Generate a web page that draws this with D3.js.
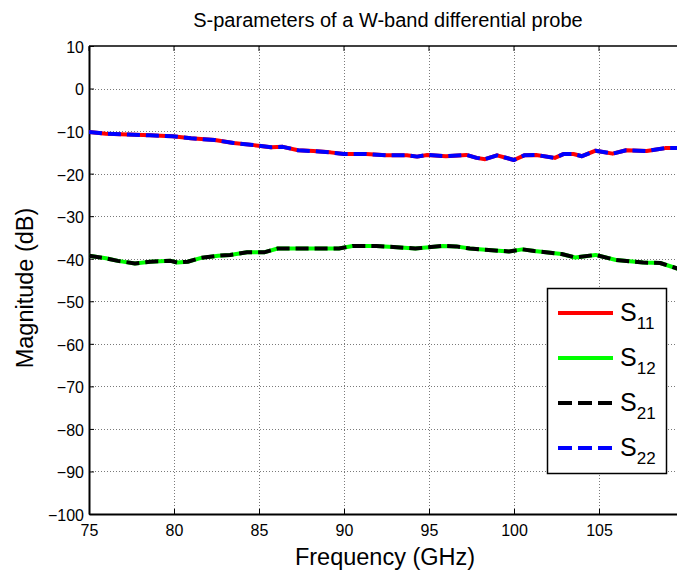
<!DOCTYPE html>
<html>
<head>
<meta charset="utf-8">
<script src="https://cdn.jsdelivr.net/npm/d3@7"></script>
<style>
  html, body { margin: 0; padding: 0; background: #fff; }
  svg { display: block; font-family: "Liberation Sans", Arial, sans-serif; }
</style>
</head>
<body>
<div id="chart"></div>
<script>
// ---- data ----
const freqUpper = [75, 76, 77.3, 78.6, 79.2, 79.9, 81, 82.4, 83.5, 84.7, 85.7, 86.4, 87.3, 88.2, 89.2, 90, 91.3, 92.5, 93.7, 94.3, 94.9, 96, 97.2, 97.8, 98.3, 99, 100, 100.6, 101.3, 102.4, 102.9, 103.5, 104, 104.8, 105.8, 106.6, 107.8, 108.9, 110];
const s11 = [-10.2, -10.6, -10.8, -11, -11.1, -11.2, -11.7, -12.1, -12.8, -13.3, -13.8, -13.7, -14.5, -14.7, -15, -15.4, -15.4, -15.7, -15.7, -16, -15.6, -15.9, -15.6, -16.3, -16.6, -15.7, -16.8, -15.7, -15.6, -16.3, -15.4, -15.4, -15.9, -14.6, -15.3, -14.5, -14.7, -14, -14];
const s22 = [-10.2, -10.6, -10.8, -11, -11.1, -11.2, -11.7, -12.1, -12.8, -13.3, -13.8, -13.7, -14.5, -14.7, -15, -15.4, -15.4, -15.7, -15.7, -16, -15.6, -15.9, -15.6, -16.3, -16.6, -15.7, -16.8, -15.7, -15.6, -16.3, -15.4, -15.4, -15.9, -14.6, -15.3, -14.5, -14.7, -14, -14];

const freqLower = [75, 76, 76.7, 77.7, 78.6, 79.8, 80.2, 80.8, 81.6, 82.6, 83.3, 84.3, 85.3, 86.1, 89.7, 90.5, 91.9, 93.1, 94.2, 95.8, 96.6, 97.4, 98.7, 99.7, 100.5, 101.2, 102.8, 103.6, 104.8, 106, 107.6, 108.6, 109.6, 110];
const s12 = [-39.3, -39.9, -40.5, -41.1, -40.7, -40.5, -40.9, -40.7, -39.8, -39.3, -39.1, -38.5, -38.5, -37.6, -37.6, -37, -37, -37.3, -37.6, -37, -37.1, -37.6, -38, -38.3, -37.8, -38.2, -38.9, -39.7, -39.1, -40.3, -40.9, -41, -42.3, -42.5];
const s21 = [-39.3, -39.9, -40.5, -41.1, -40.7, -40.5, -40.9, -40.7, -39.8, -39.3, -39.1, -38.5, -38.5, -37.6, -37.6, -37, -37, -37.3, -37.6, -37, -37.1, -37.6, -38, -38.3, -37.8, -38.2, -38.9, -39.7, -39.1, -40.3, -40.9, -41, -42.3, -42.5];

const xTicks = [75, 80, 85, 90, 95, 100, 105];
const yTicks = [10, 0, -10, -20, -30, -40, -50, -60, -70, -80, -90, -100];
const seriesNames = ["11", "12", "21", "22"];
const seriesColors = ["#ff0000", "#00ff00", "#000000", "#0000ff"];
const seriesDashed = [false, false, true, true];

// ---- layout ----
const W = 677, H = 573;
const pLeft = 89, pRight = 684, pTop = 46, pBottom = 514;

const svg = d3.select("#chart").append("svg").attr("width", W).attr("height", H);

const x = d3.scaleLinear().domain([75, 110]).range([pLeft, pRight]);
const y = d3.scaleLinear().domain([-100, 10]).range([pBottom, pTop]);

svg.append("defs").append("clipPath").attr("id", "clip")
  .append("rect").attr("x", pLeft).attr("y", pTop).attr("width", pRight - pLeft).attr("height", pBottom - pTop);

// grid
const grid = svg.append("g").attr("stroke", "#7a7a7a").attr("stroke-width", 1).attr("stroke-dasharray", "1,2");
grid.selectAll("line.gx").data(xTicks.slice(1)).enter().append("line")
  .attr("x1", d => Math.round(x(d)) + 0.5).attr("x2", d => Math.round(x(d)) + 0.5)
  .attr("y1", pTop).attr("y2", pBottom);
grid.selectAll("line.gy").data(yTicks.slice(1, -1)).enter().append("line")
  .attr("y1", d => Math.round(y(d)) + 0.5).attr("y2", d => Math.round(y(d)) + 0.5)
  .attr("x1", pLeft).attr("x2", pRight);

// axes
const xAxis = d3.axisBottom(x).tickValues(xTicks).tickSizeInner(-5).tickSizeOuter(0).tickPadding(10);
const yAxis = d3.axisLeft(y).tickValues(yTicks).tickSizeInner(-5).tickSizeOuter(0).tickPadding(10);

const gx = svg.append("g").attr("transform", `translate(0,${pBottom})`).call(xAxis);
const gy = svg.append("g").attr("transform", `translate(${pLeft},0)`).call(yAxis);
[gx, gy].forEach(g => {
  g.select(".domain").attr("stroke", "#000").attr("stroke-width", 2);
  g.selectAll(".tick line").attr("stroke", "#000").attr("stroke-width", 1);
  g.selectAll(".tick text").attr("fill", "#000").style("font-size", "16px")
    .style("font-family", "'Liberation Sans', Arial, sans-serif");
});
gy.selectAll(".tick text").attr("x", -5).attr("dy", "0.4em");
gx.selectAll(".tick text").attr("y", 11).attr("dy", "0.71em");

// top border + top ticks
svg.append("line").attr("x1", pLeft).attr("x2", pRight).attr("y1", pTop).attr("y2", pTop)
  .attr("stroke", "#000").attr("stroke-width", 1.5);
svg.append("g").selectAll("line").data(xTicks).enter().append("line")
  .attr("x1", d => x(d)).attr("x2", d => x(d)).attr("y1", pTop).attr("y2", pTop + 5)
  .attr("stroke", "#000");

// lines
const line = d3.line().x(d => x(d[0])).y(d => y(d[1]));
const seriesData = [
  d3.zip(freqUpper, s11),
  d3.zip(freqLower, s12),
  d3.zip(freqLower, s21),
  d3.zip(freqUpper, s22)
];
const plot = svg.append("g").attr("clip-path", "url(#clip)");
seriesData.forEach((data, i) => {
  plot.append("path").datum(data)
    .attr("d", line)
    .attr("fill", "none")
    .attr("stroke", seriesColors[i])
    .attr("stroke-width", 4)
    .attr("stroke-linejoin", "round")
    .attr("stroke-dasharray", seriesDashed[i] ? "13,6" : null);
});

// title and labels
svg.append("text").attr("x", 388).attr("y", 27).attr("text-anchor", "middle")
  .style("font-size", "20px").attr("fill", "#000").text("S-parameters of a W-band differential probe");
svg.append("text").attr("x", 385).attr("y", 565).attr("text-anchor", "middle")
  .style("font-size", "23.5px").attr("fill", "#000").text("Frequency (GHz)");
svg.append("text").attr("transform", "translate(33,288) rotate(-90)").attr("text-anchor", "middle")
  .style("font-size", "23.5px").attr("fill", "#000").text("Magnitude (dB)");

// legend
const lg = svg.append("g");
lg.append("rect").attr("x", 547.5).attr("y", 288.5).attr("width", 119).attr("height", 185)
  .attr("fill", "#fff").attr("stroke", "#000").attr("stroke-width", 1.5);
const legendY = d3.scalePoint().domain(seriesNames).range([313, 448]);
seriesNames.forEach((n, i) => {
  const yy = legendY(n);
  lg.append("line").attr("x1", 558).attr("x2", 613).attr("y1", yy).attr("y2", yy)
    .attr("stroke", seriesColors[i]).attr("stroke-width", 4)
    .attr("stroke-dasharray", seriesDashed[i] ? "14,6" : null);
  const t = lg.append("text").attr("x", 620).attr("y", yy + 8).attr("fill", "#000").style("font-size", "25px");
  t.append("tspan").text("S");
  t.append("tspan").attr("dy", 8).style("font-size", "17px").text(n);
});
</script>
</body>
</html>
